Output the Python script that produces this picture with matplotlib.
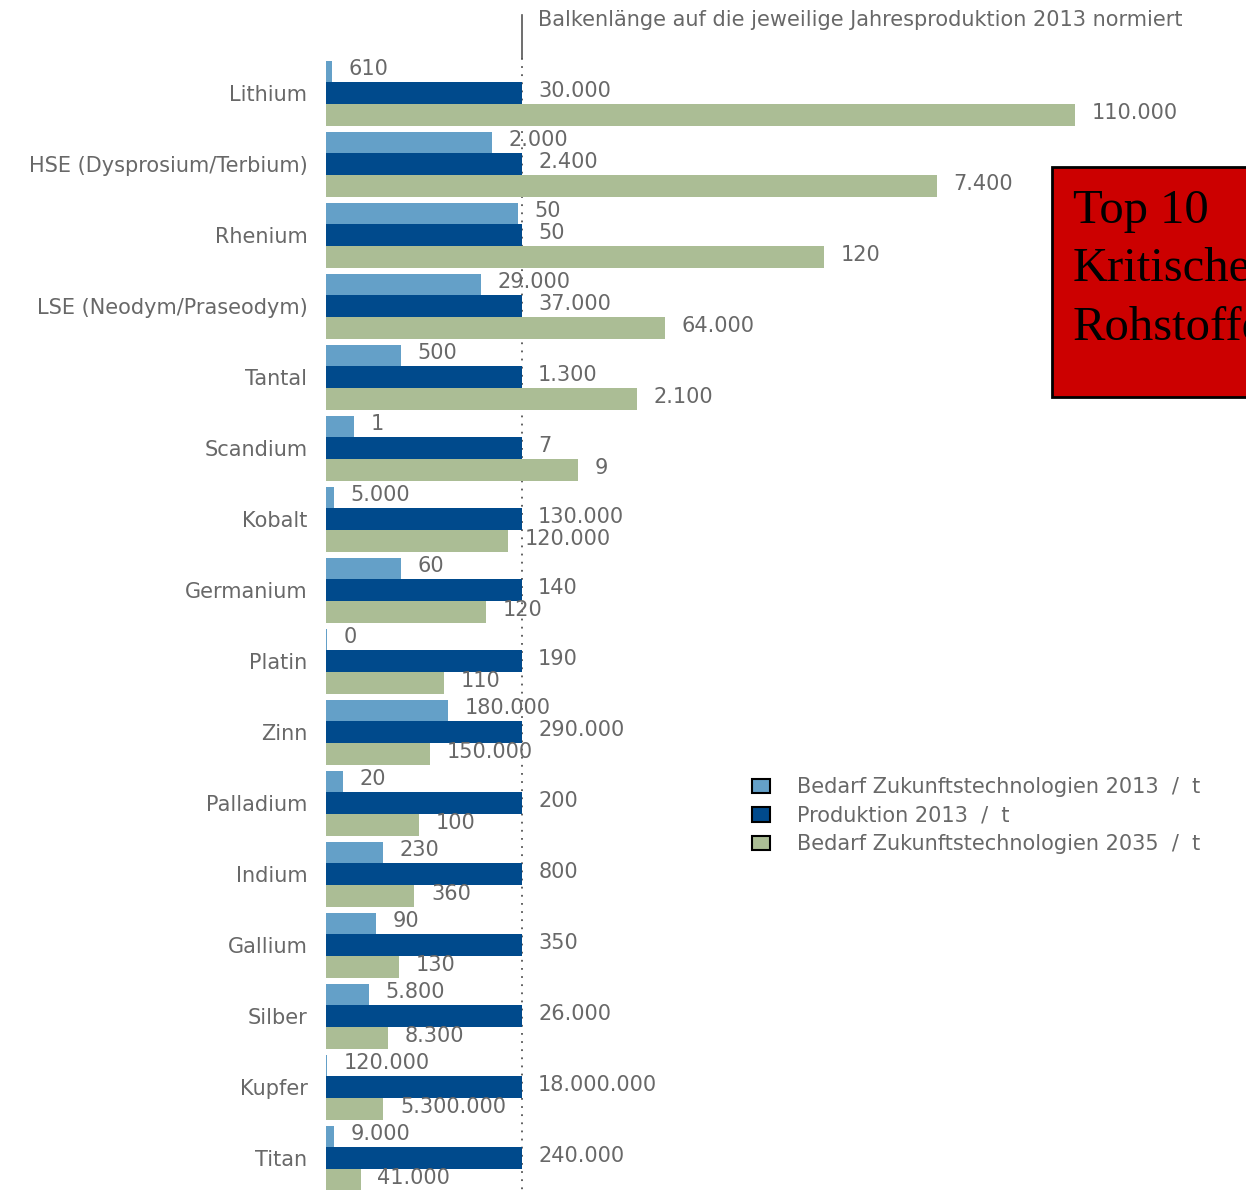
import matplotlib
matplotlib.use("Agg")
import matplotlib.pyplot as plt
from matplotlib.patches import Patch, Rectangle
import numpy as np

# ---------------- data ----------------
categories = ["Lithium", "HSE (Dysprosium/Terbium)", "Rhenium", "LSE (Neodym/Praseodym)",
              "Tantal", "Scandium", "Kobalt", "Germanium", "Platin", "Zinn", "Palladium",
              "Indium", "Gallium", "Silber", "Kupfer", "Titan"]
demand_2013 = [610, 2000, 50, 29000, 500, 1, 5000, 60, 0, 180000, 20, 230, 90, 5800, 120000, 9000]
production_2013 = [30000, 2400, 50, 37000, 1300, 7, 130000, 140, 190, 290000, 200, 800, 350,
                   26000, 18000000, 240000]
demand_2035 = [110000, 7400, 120, 64000, 2100, 9, 120000, 120, 110, 150000, 100, 360, 130,
               8300, 5300000, 41000]
# bar lengths as drawn (normalised to production 2013 = 1)
len_2013 = [0.031, 0.851, 0.98, 0.795, 0.385, 0.144, 0.041, 0.385, 0.008, 0.626, 0.09,
            0.295, 0.259, 0.223, 0.008, 0.041]
len_prod = [1.0] * 16
len_2035 = [3.826, 3.118, 2.544, 1.733, 1.587, 1.29, 0.933, 0.82, 0.603, 0.533, 0.477,
            0.454, 0.374, 0.318, 0.295, 0.179]
legend_labels = ["Bedarf Zukunftstechnologien 2013  /  t",
                 "Produktion 2013  /  t",
                 "Bedarf Zukunftstechnologien 2035  /  t"]
title_text = "Balkenlänge auf die jeweilige Jahresproduktion 2013 normiert"
box_text = "Top 10\nKritische\nRohstoffe"

# ---------------- style ----------------
c_light = "#64a0c8"
c_dark = "#004a8c"
c_green = "#abbd95"
txt = "#686868"
font = "DejaVu Sans"
fs = 15

W, H = 1246, 1190
fig = plt.figure(figsize=(W / 100, H / 100), dpi=100)
x0 = 325.5
unit = 196.0
ax = fig.add_axes([x0 / W, 0, 1 - x0 / W, 1])
ax.set_xlim(0, (W - x0) / unit)
pitch = 71.0
c0 = 93.2
ax.set_ylim((H - c0) / pitch, (0 - c0) / pitch)

y = np.arange(len(categories))
bh = 21.7 / pitch


def fmt(v):
    return f"{v:,}".replace(",", ".")


ax.barh(y - bh, len_2013, height=bh, color=c_light, zorder=3)
ax.barh(y, len_prod, height=bh, color=c_dark, zorder=3)
ax.barh(y + bh, len_2035, height=bh, color=c_green, zorder=3)

for i in range(len(categories)):
    for L, v, dy in ((len_2013[i], demand_2013[i], -bh), (len_prod[i], production_2013[i], 0),
                     (len_2035[i], demand_2035[i], bh)):
        ax.annotate(fmt(v), (L, y[i] + dy), xytext=(12, 1.5), textcoords="offset points",
                    ha="left", va="center", fontsize=fs, color=txt, family=font, zorder=5)

ax.set_yticks(y)
ax.set_yticklabels(categories, fontsize=fs, color=txt, family=font)
ax.tick_params(axis="y", length=0, pad=13)
ax.set_xticks([])
for s in ax.spines.values():
    s.set_visible(False)

# reference line at production = 1
ytop_solid = (15 - c0) / pitch
ymid = (58 - c0) / pitch
ax.plot([1, 1], [ytop_solid, ymid], color="#555555", lw=1.2, zorder=1, clip_on=False)
ax.plot([1, 1], [ymid, (H - c0) / pitch], color="#555555", lw=1.3, ls=(0, (1, 3.5)),
        zorder=1, clip_on=False)
ax.annotate(title_text, (1, (20 - c0) / pitch), xytext=(12, 0), textcoords="offset points",
            ha="left", va="center", fontsize=fs, color=txt, family=font)

# legend
handles = [Patch(facecolor=c, edgecolor="black", linewidth=1.5) for c in (c_light, c_dark, c_green)]
fig.legend(handles, legend_labels, loc="upper left", bbox_to_anchor=(752 / W, 1 - 777 / H),
           frameon=False, borderpad=0, borderaxespad=0, handlelength=0.87, handleheight=0.68,
           handletextpad=1.3, labelspacing=0.42, prop={"family": font, "size": fs},
           labelcolor=txt)

# red box
fig.patches.append(Rectangle((1052 / W, 1 - 397 / H), (W + 10 - 1052) / W, (397 - 167) / H,
                             transform=fig.transFigure, facecolor="#cc0000", edgecolor="black",
                             linewidth=2, zorder=10))
fig.text(1073 / W, 1 - 189 / H, box_text, ha="left", va="top", fontsize=35,
         family="Liberation Serif", color="black", linespacing=1.42, zorder=11)

fig.savefig("out.png", dpi=100)
